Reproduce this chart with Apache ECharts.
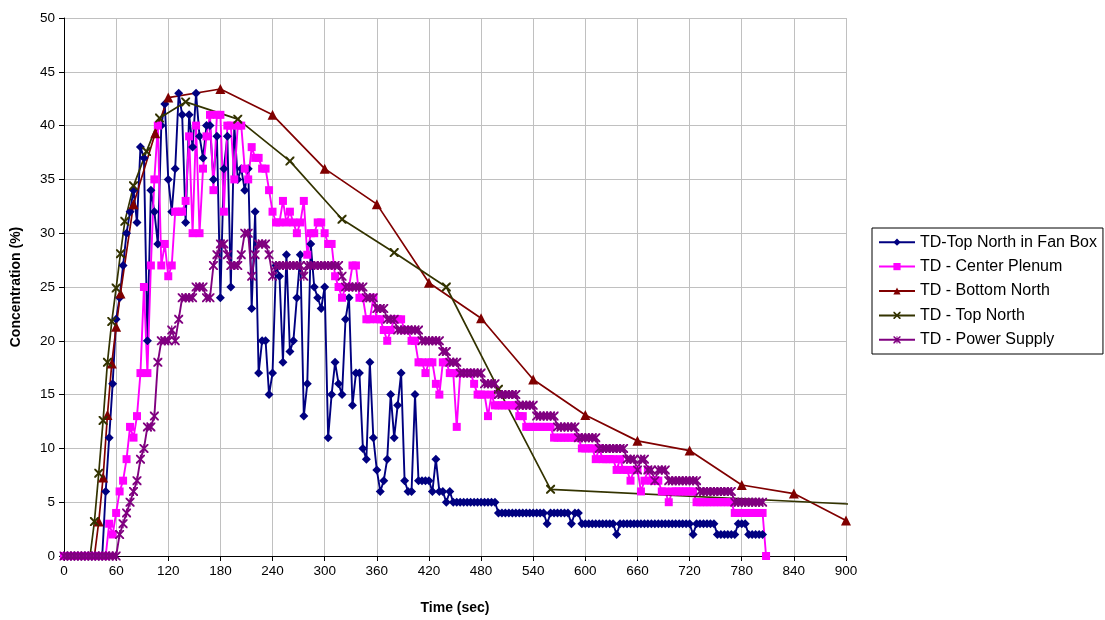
<!DOCTYPE html>
<html>
<head>
<meta charset="utf-8">
<script src="https://cdn.jsdelivr.net/npm/echarts@6/dist/echarts.min.js"></script>
<style>
html,body{margin:0;padding:0;background:#fff;}
#chart{width:1105px;height:620px;}
</style>
</head>
<body>
<div id="chart"></div>
<script>
// ---- data ----
const seriesNames = ['TD-Top North in Fan Box','TD - Center Plenum','TD - Bottom North','TD - Top North','TD - Power Supply'];
const xTicks = [0,60,120,180,240,300,360,420,480,540,600,660,720,780,840,900];
const yTicks = [0,5,10,15,20,25,30,35,40,45,50];

// dense loggers: one reading every 4 s starting at 0 s
const sampleStart = 0;
const sampleStep = 4;

const fanBox = [
0,0,0,0,0,0,0,0,0,0,
0,0,6,11,16,22,24,27,30,32,
34,31,38,37,20,34,32,29,40,42,
35,32,36,43,41,31,41,38,43,39,
37,40,40,35,39,24,36,39,25,40,
35,36,34,36,23,32,17,20,20,15,
17,27,26,18,28,19,20,24,28,13,
16,29,25,24,23,25,11,15,18,16,
15,22,24,14,17,17,10,9,18,11,
8,6,7,9,15,11,14,17,7,6,
6,15,7,7,7,7,6,9,6,6,
5,6,5,5,5,5,5,5,5,5,
5,5,5,5,5,4,4,4,4,4,
4,4,4,4,4,4,4,4,4,3,
4,4,4,4,4,4,3,4,4,3,
3,3,3,3,3,3,3,3,3,2,
3,3,3,3,3,3,3,3,3,3,
3,3,3,3,3,3,3,3,3,3,
3,2,3,3,3,3,3,3,2,2,
2,2,2,2,3,3,3,2,2,2,
2,2
];

const centerPlenum = [
0,0,0,0,0,0,0,0,0,0,
0,0,0,3,2,4,6,7,9,12,
11,13,17,25,17,27,35,40,27,29,
26,27,32,32,32,33,39,30,40,30,
36,39,41,34,41,41,32,40,40,35,
40,40,36,35,38,37,37,36,36,34,
32,31,31,33,31,32,31,30,31,33,
28,30,30,31,31,30,29,29,26,25,
24,25,25,27,27,24,24,22,22,24,
22,22,21,20,21,22,22,22,21,21,
20,20,18,18,17,18,18,16,15,18,
18,17,17,12,17,17,17,17,16,15,
15,15,13,15,14,14,14,14,14,14,
14,13,13,12,12,12,12,12,12,12,
12,11,11,11,11,11,11,11,11,10,
10,10,10,9,10,9,9,9,9,8,
9,8,8,7,8,8,6,7,8,7,
7,7,6,6,5,6,6,6,6,6,
6,6,5,5,5,5,5,5,5,5,
5,5,5,4,4,4,4,4,4,4,
4,4,0
];

const powerSupply = [
0,0,0,0,0,0,0,0,0,0,
0,0,0,0,0,0,2,3,4,5,
6,7,9,10,12,12,13,18,20,20,
20,21,20,22,24,24,24,24,25,25,
25,24,24,27,28,29,29,28,27,27,
27,28,30,30,26,28,29,29,29,28,
26,27,27,27,27,27,27,27,27,26,
27,27,27,27,27,27,27,27,27,27,
26,25,25,25,25,25,25,24,24,24,
23,23,23,22,22,22,21,21,21,21,
21,21,21,20,20,20,20,20,20,19,
19,18,18,18,17,17,17,17,17,17,
17,16,16,16,16,15,15,15,15,15,
15,14,14,14,14,14,13,13,13,13,
13,13,12,12,12,12,12,12,11,11,
11,11,11,11,10,10,10,10,10,10,
10,10,9,9,9,8,9,9,8,8,
7,8,8,8,7,7,7,7,7,7,
7,7,7,6,6,6,6,6,6,6,
6,6,6,5,5,5,5,5,5,5,
5,5
];

// sparse loggers
const bottomNorthTime  = [35,40,45,50,55,60,65,80,105,120,180,240,300,360,420,480,540,600,660,720,780,840,900];
const bottomNorthValue = [0,3.2,7.3,13.1,17.9,21.3,24.4,32.7,39.3,42.6,43.4,41.0,36.0,32.7,25.4,22.1,16.4,13.1,10.7,9.8,6.6,5.8,3.3];

const topNorthTime  = [30,35,40,45,50,55,60,65,70,80,95,110,140,200,260,320,380,440,500,560,960];
const topNorthValue = [0,3.2,7.7,12.6,18.0,21.8,24.9,28.1,31.1,34.4,37.6,40.7,42.2,40.6,36.7,31.3,28.2,25.0,15.5,6.2,4.6];

// ---- build ----
function dense(values){
  return values.map((v,i)=>[sampleStart + i*sampleStep, v]);
}
function sparse(times, values){
  return times.map((t,i)=>{
    const item = {value:[t, values[i]]};
    if (values[i] === 0) item.symbol = 'none';
    return item;
  });
}

const xPath = 'path://M0,0L1.6,0L5,3.4L8.4,0L10,0L10,1.6L6.6,5L10,8.4L10,10L8.4,10L5,6.6L1.6,10L0,10L0,8.4L3.4,5L0,1.6Z';
const starPath = 'path://M0,0L1.5,0L5,3.5L8.5,0L10,0L10,1.5L6.5,5L10,8.5L10,10L8.5,10L5,6.5L1.5,10L0,10L0,8.5L3.5,5L0,1.5Z M4.35,0L5.65,0L5.65,10L4.35,10Z';

const font = 'Liberation Sans, Arial, sans-serif';
const chart = echarts.init(document.getElementById('chart'), null, {renderer:'canvas'});

function mk(name, data, color, symbol, size, width){
  return {
    name, type:'line', data,
    symbol, symbolSize:size,
    showAllSymbol:true,
    lineStyle:{color, width:width},
    itemStyle:{color, borderWidth:0},
    emphasis:{disabled:true},
    clip:true
  };
}

chart.setOption({
  animation:false,
  backgroundColor:'#ffffff',
  textStyle:{fontFamily:font},
  grid:{left:64, right:259, top:18, bottom:60, containLabel:false},
  xAxis:{
    type:'value', min:xTicks[0], max:xTicks[xTicks.length-1], interval:60,
    name:'Time (sec)', nameLocation:'middle', nameGap:45,
    nameTextStyle:{fontFamily:font, fontSize:14, fontWeight:'bold', color:'#000'},
    axisLine:{show:true, onZero:false, lineStyle:{color:'#000', width:1}},
    axisTick:{show:true, inside:false, length:5, lineStyle:{color:'#000'}},
    axisLabel:{fontFamily:font, fontSize:13.5, color:'#000', margin:8,
      formatter:v=> xTicks.includes(v) ? String(v) : ''},
    splitLine:{show:true, lineStyle:{color:'#c0c0c0', width:1}}
  },
  yAxis:{
    type:'value', min:yTicks[0], max:yTicks[yTicks.length-1], interval:5,
    name:'Concentration (%)', nameLocation:'middle', nameGap:41, nameRotate:90,
    nameTextStyle:{fontFamily:font, fontSize:14, fontWeight:'bold', color:'#000'},
    axisLine:{show:true, lineStyle:{color:'#000', width:1}},
    axisTick:{show:true, inside:false, length:5, lineStyle:{color:'#000'}},
    axisLabel:{fontFamily:font, fontSize:13.5, color:'#000', margin:9,
      formatter:v=> yTicks.includes(v) ? String(v) : ''},
    splitLine:{show:true, lineStyle:{color:'#c0c0c0', width:1}}
  },
  legend:{
    orient:'vertical', left:872, top:228,
    data:seriesNames,
    backgroundColor:'#fff', borderColor:'#000', borderWidth:1,
    padding:[5,6,5,6], itemGap:6, itemWidth:36, itemHeight:9,
    textStyle:{fontFamily:font, fontSize:16, color:'#000', lineHeight:18.4},
    selectedMode:false
  },
  series:[
    mk(seriesNames[0], dense(fanBox), '#000080', 'diamond', 9, 1.9),
    mk(seriesNames[1], dense(centerPlenum), '#ff00ff', 'rect', 8, 1.9),
    mk(seriesNames[2], sparse(bottomNorthTime, bottomNorthValue), '#800000', 'triangle', 10, 1.7),
    mk(seriesNames[3], sparse(topNorthTime, topNorthValue), '#333300', xPath, 9, 1.7),
    mk(seriesNames[4], dense(powerSupply), '#800080', starPath, 9, 1.9)
  ]
});
</script>
</body>
</html>
